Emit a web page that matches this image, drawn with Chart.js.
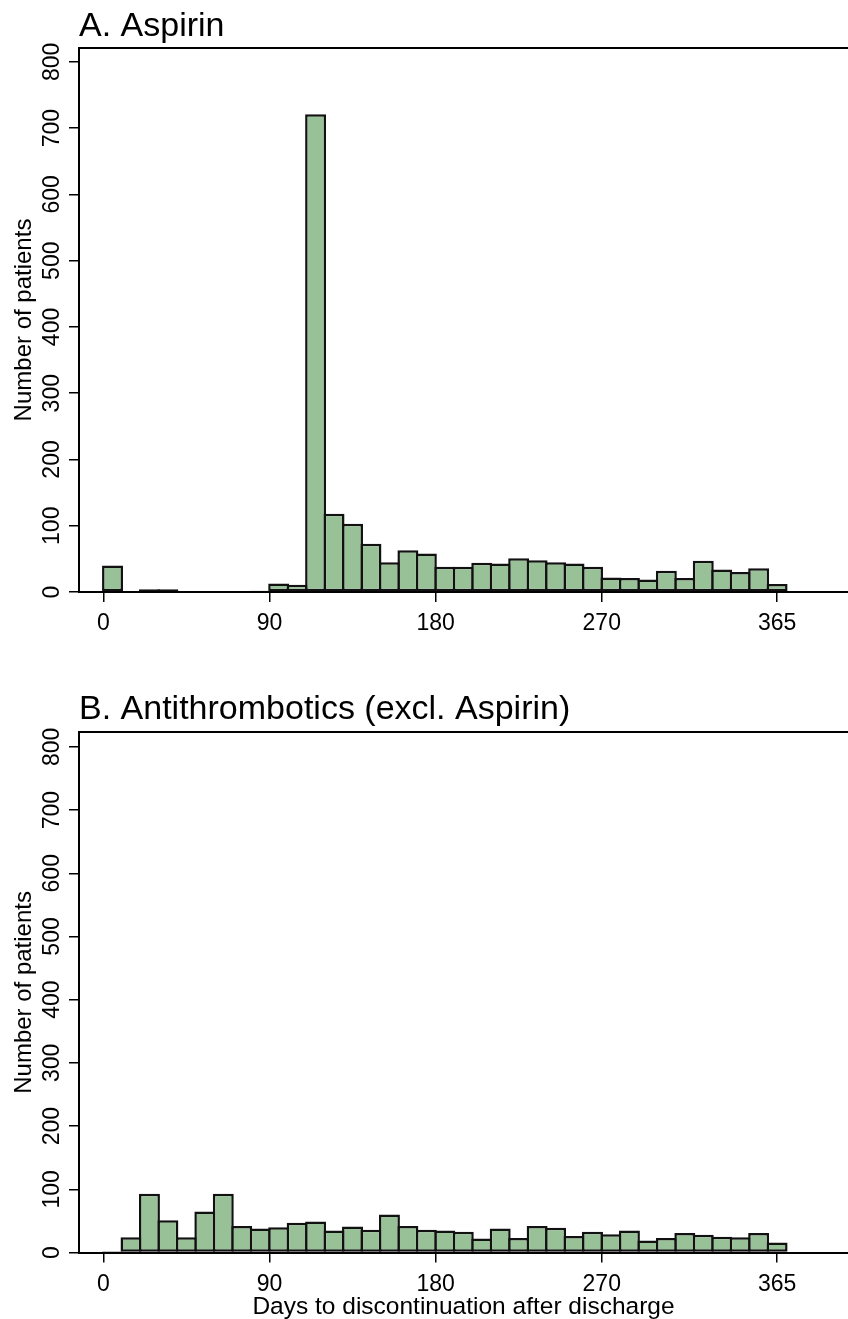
<!DOCTYPE html>
<html>
<head>
<meta charset="utf-8">
<script src="https://cdn.jsdelivr.net/npm/chart.js@4.4.1/dist/chart.umd.min.js"></script>
<style>
  html, body { margin: 0; padding: 0; background: #fff; }
  #wrap { position: relative; width: 848px; height: 1319px; }
  .panel { position: absolute; left: 0; width: 848px; }
  #panelA { top: 0; height: 660px; }
  #panelB { top: 660px; height: 659px; }
</style>
</head>
<body>
<div id="wrap">
  <div class="panel" id="panelA"><canvas id="chartA"></canvas></div>
  <div class="panel" id="panelB"><canvas id="chartB"></canvas></div>
</div>
<script>
// histogram bins: lower edge of each 10-day bin (days after discharge)
var binStarts = [0, 10, 20, 30, 40, 50, 60, 70, 80, 90,
  100, 110, 120, 130, 140, 150, 160, 170, 180, 190,
  200, 210, 220, 230, 240, 250, 260, 270, 280, 290,
  300, 310, 320, 330, 340, 350, 360];
var binWidth = 10;

// A. Aspirin - patients per bin
var aspirinCounts = [40, 1, 4, 4, 1, 1, 1, 0, 2, 13,
  11, 721, 118, 103, 73, 45, 63, 58, 38, 38,
  44, 43, 51, 48, 45, 43, 38, 22, 21, 19,
  32, 21, 47, 34, 30, 36, 12];

// B. Antithrombotics (excl. Aspirin)
var antithromboticCounts = [2, 24, 93, 51, 24, 65, 93, 42, 38, 40,
  47, 49, 35, 41, 36, 60, 42, 36, 35, 33,
  22, 38, 23, 42, 39, 26, 33, 29, 35, 19,
  23, 31, 28, 25, 24, 31, 16];

var xTickValues = [0, 90, 180, 270, 365];
var panelTitles = ['A. Aspirin', 'B. Antithrombotics (excl. Aspirin)'];
var yTitle = 'Number of patients';
var xTitle = 'Days to discontinuation after discharge';

var FONT = "'Liberation Sans', Arial, Helvetica, sans-serif";
var barFill = 'rgb(153, 193, 152)';
var barEdge = '#111';

Chart.defaults.font.family = FONT;
Chart.defaults.color = '#000';

function makeChart(canvasId, title, counts, opts) {
  var points = binStarts.map(function (s, i) {
    return { x: s + binWidth / 2, y: counts[i] };
  });

  return new Chart(document.getElementById(canvasId), {
    type: 'bar',
    data: {
      datasets: [{
        data: points,
        backgroundColor: barFill,
        borderColor: barEdge,
        borderWidth: 2.5,
        borderSkipped: false,
        // slightly wider than the bin so neighbouring outlines overlap into one line
        barPercentage: 1.135,
        categoryPercentage: 1
      }]
    },
    options: {
      responsive: true,
      maintainAspectRatio: false,
      animation: false,
      layout: { padding: 0 },
      plugins: {
        legend: { display: false },
        tooltip: { enabled: false },
        title: {
          display: true,
          text: title,
          align: 'start',
          fullSize: false,
          color: '#000',
          font: { family: FONT, size: 34, weight: 'normal', lineHeight: 1.2 },
          padding: opts.titlePad
        }
      },
      scales: {
        x: {
          type: 'linear',
          offset: false,
          min: -13.16,
          max: 403.4,
          afterBuildTicks: function (s) {
            s.ticks = xTickValues.map(function (v) { return { value: v }; });
          },
          afterFit: function (s) { s.height = opts.xHeight; },
          ticks: {
            color: '#000',
            font: { size: 23 },
            padding: 8,
            maxRotation: 0,
            autoSkip: false
          },
          grid: {
            offset: false,
            drawOnChartArea: false,
            drawTicks: true,
            tickLength: 10,
            color: '#000',
            lineWidth: 1.5
          },
          border: { display: true, color: '#000', width: 2 },
          title: {
            display: opts.showXTitle,
            text: xTitle,
            color: '#000',
            font: { size: 24.5, lineHeight: 1 },
            padding: { top: 0, bottom: 0 }
          }
        },
        xTop: {
          type: 'linear',
          position: 'top',
          ticks: { display: false },
          grid: { display: false, drawTicks: false },
          border: { display: true, color: '#000', width: 2 },
          afterFit: function (s) { s.height = 0; }
        },
        y: {
          min: 0,
          max: opts.yMax,
          afterFit: function (s) { s.width = 79; },
          ticks: {
            stepSize: 100,
            includeBounds: false,
            minRotation: 90,
            maxRotation: 90,
            crossAlign: 'center',
            padding: -3,
            color: '#000',
            font: { size: 23 },
            autoSkip: false
          },
          grid: {
            drawOnChartArea: false,
            drawTicks: true,
            tickLength: 10,
            color: '#000',
            lineWidth: 1.5
          },
          border: { display: true, color: '#000', width: 2 },
          title: {
            display: true,
            text: yTitle,
            color: '#000',
            font: { size: 24, lineHeight: 1.2 },
            padding: { top: 10, bottom: 0 }
          }
        }
      }
    }
  });
}

makeChart('chartA', panelTitles[0], aspirinCounts, {
  yMax: 821,
  xHeight: 68,
  titlePad: { top: 6, bottom: 1.2 },
  showXTitle: false
});

makeChart('chartB', panelTitles[1], antithromboticCounts, {
  yMax: 823,
  xHeight: 66.5,
  titlePad: { top: 29.1, bottom: 2.4 },
  showXTitle: true
});
</script>
</body>
</html>
